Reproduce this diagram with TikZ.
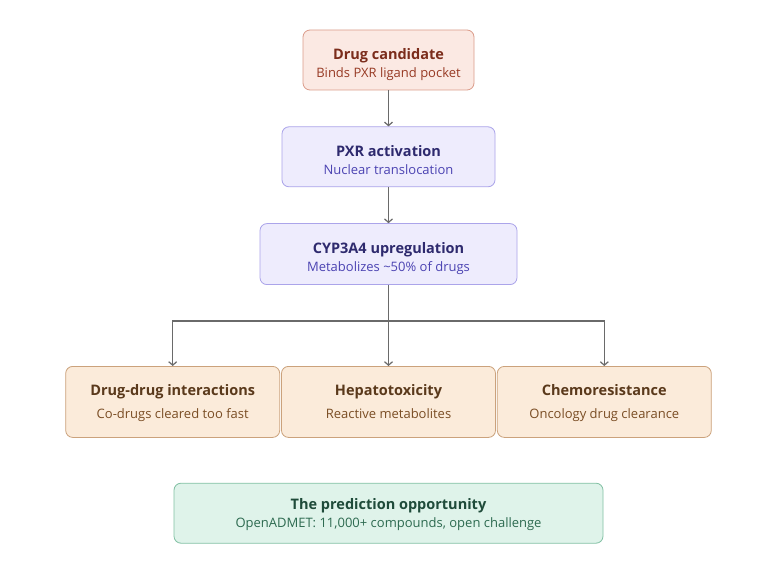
\documentclass[tikz,border=0pt]{standalone}
\usepackage{fontspec}
\setmainfont{Open Sans}
\usepackage{xcolor}
\usetikzlibrary{arrows.meta, positioning}
\definecolor{candfill}{HTML}{FBE9E3}
\definecolor{candline}{HTML}{DB9C8A}
\definecolor{candtext}{HTML}{7B2C1B}
\definecolor{candsub}{HTML}{973A24}
\definecolor{pxrfill}{HTML}{EEECFD}
\definecolor{pxrline}{HTML}{ABA4EA}
\definecolor{pxrtext}{HTML}{2E2A6E}
\definecolor{pxrsub}{HTML}{4B43B2}
\definecolor{efffill}{HTML}{FBEBDA}
\definecolor{effline}{HTML}{CBA27C}
\definecolor{efftext}{HTML}{5A391B}
\definecolor{effsub}{HTML}{7A4D24}
\definecolor{oppfill}{HTML}{DFF3EA}
\definecolor{oppline}{HTML}{82C1A4}
\definecolor{opptext}{HTML}{1F4B3A}
\definecolor{oppsub}{HTML}{2D6A50}
\definecolor{arrowgray}{HTML}{6A6A6A}
\tikzset{
  box/.style={rectangle, rounded corners=7pt, draw, line width=0.8pt, align=center, inner sep=0pt, font=\fontsize{14.5}{18}\selectfont},
  cand/.style={box, draw=candline, fill=candfill, text=candtext, minimum width=171pt, minimum height=60pt},
  pxr/.style={box, draw=pxrline, fill=pxrfill, text=pxrtext, minimum width=213pt, minimum height=60pt},
  cyp/.style={box, draw=pxrline, fill=pxrfill, text=pxrtext, minimum width=257pt, minimum height=61pt},
  effect/.style={box, draw=effline, fill=efffill, text=efftext, minimum width=214pt, minimum height=71pt},
  opp/.style={box, draw=oppline, fill=oppfill, text=opptext, minimum width=429pt, minimum height=60pt},
  arrow/.style={-{Straight Barb[length=3.5pt,width=8pt]}, line width=1.2pt, draw=arrowgray},
}
\newcommand{\ttl}[2][21pt]{\textbf{\rule{0pt}{#1}#2}}
\newcommand{\sub}[2]{{\fontsize{13}{15}\selectfont\color{#1}#2\rule[-4pt]{0pt}{4pt}}}

\begin{document}
\begin{tikzpicture}[x=1pt, y=-1pt]
\useasboundingbox[fill=white] (0,0) rectangle (768,569);
\node[cand] (cand) at (388.5,60) {\ttl{Drug candidate}\\[0.5pt]\sub{candsub}{Binds PXR ligand pocket}};
\node[pxr, below=36pt of cand] (pxr) {\ttl{PXR activation}\\[0.5pt]\sub{pxrsub}{Nuclear translocation}};
\node[cyp, below=36pt of pxr] (cyp) {\ttl{CYP3A4 upregulation}\\[0.5pt]\sub{pxrsub}{Metabolizes \textasciitilde50\% of drugs}};
\node[effect, below=81pt of cyp] (hep) {\ttl[14pt]{Hepatotoxicity}\\[5pt]\sub{effsub}{Reactive metabolites}};
\node[effect, left=1pt of hep] (ddi) {\ttl[14pt]{Drug-drug interactions}\\[5pt]\sub{effsub}{Co-drugs cleared too fast}};
\node[effect, right=1pt of hep] (chemo) {\ttl[14pt]{Chemoresistance}\\[5pt]\sub{effsub}{Oncology drug clearance}};
\node[opp, below=45pt of hep] (opp) {\ttl[15pt]{The prediction opportunity}\\[0pt]\sub{oppsub}{OpenADMET: 11,000+ compounds, open challenge}};
\coordinate[below=36pt of cyp] (split);
\draw[arrow] (cand) -- (pxr);
\draw[arrow] (pxr) -- (cyp);
\draw[arrow] (cyp) -- (hep);
\draw[arrow] (split) -| (ddi);
\draw[arrow] (split) -| (chemo);
\end{tikzpicture}
\end{document}
